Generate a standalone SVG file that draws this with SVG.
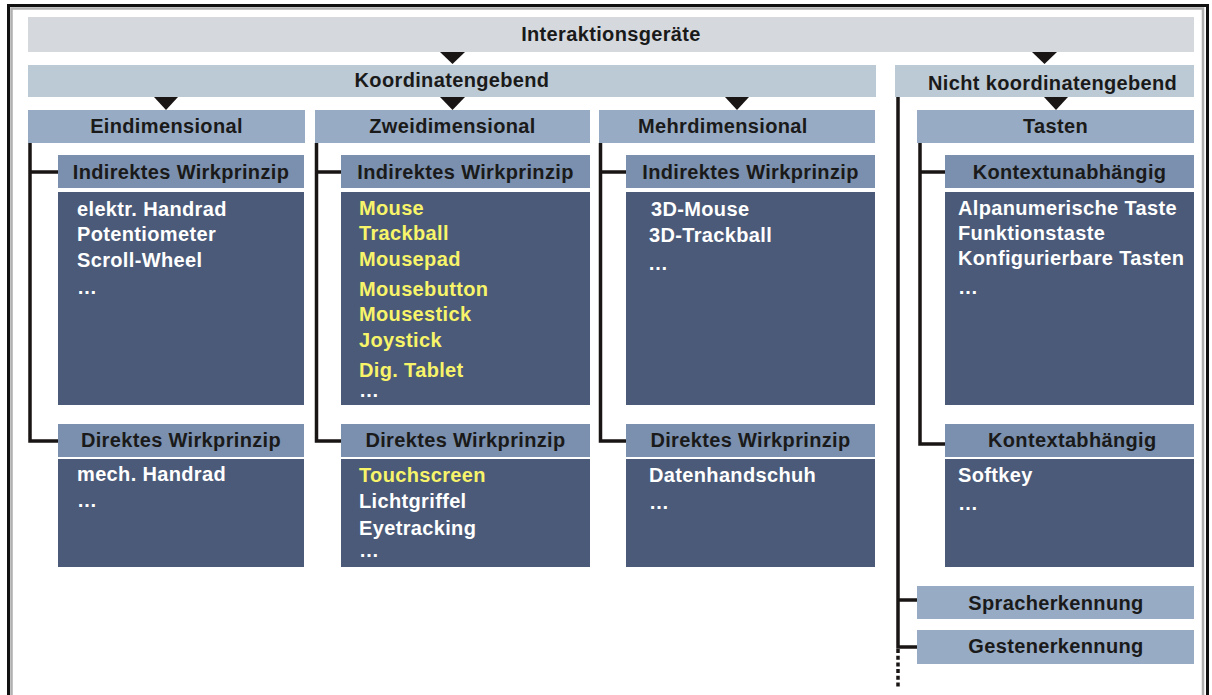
<svg xmlns="http://www.w3.org/2000/svg" width="1212" height="695" viewBox="0 0 1212 695">
<style>
text{font-family:"Liberation Sans",Arial,sans-serif;font-weight:bold;font-size:20px;letter-spacing:0.35px}
.t{fill:#1a1a1a}
.c{text-anchor:middle}
.w{fill:#ffffff}
.y{fill:#f8f46a}
.b0{fill:#d5d9de}
.b1{fill:#bccad5}
.b2{fill:#98abc4}
.b3{fill:#7a90ae}
.b4{fill:#4a5a78}
.ln{stroke:#1a1515;stroke-width:3.5;fill:none}
.tri{fill:#1a1515}
</style>
<rect x="0" y="0" width="1212" height="695" fill="#ffffff"/>
<g id="frame">
<path d="M8.5,695 V5.5 H1207.5 V695" fill="none" stroke="#111111" stroke-width="3"/>
<path d="M11.5,695 V8.5 H1203 V695" fill="none" stroke="#b0b0b0" stroke-width="2.5"/>
</g>
<g id="connectors">
<polygon class="tri" points="440,52 465,52 452.5,64"/>
<polygon class="tri" points="1032,52 1057,52 1044.5,64"/>
<polygon class="tri" points="154,97 178,97 166,110"/>
<polygon class="tri" points="440,97 465,97 452.5,110"/>
<polygon class="tri" points="725,97 749,97 737,110"/>
<polygon class="tri" points="1044,97 1068,97 1056,110"/>
<path class="ln" d="M30,143 V441 H58 M30,172 H58"/>
<path class="ln" d="M316.5,143 V441 H341 M316.5,172 H341"/>
<path class="ln" d="M600.5,143 V441 H626 M600.5,172 H626"/>
<path class="ln" d="M920,143 V444 H945 M920,172 H945"/>
<path class="ln" d="M898,97 V647 H917 M898,600 H917"/>
<path d="M898,649 V687" stroke="#1a1515" stroke-width="3.5" stroke-dasharray="4,2.7" fill="none"/>
</g>
<g id="n-interaktionsgeraete">
<rect class="b0" x="28" y="17" width="1166" height="35"/>
<text class="t c" x="611" y="41">Interaktionsgeräte</text>
</g>
<g id="n-koordinatengebend">
<rect class="b1" x="28" y="65" width="848" height="32"/>
<text class="t c" x="452" y="87">Koordinatengebend</text>
</g>
<g id="n-nicht-koordinatengebend">
<rect class="b1" x="895" y="65" width="299" height="32"/>
<text class="t" x="928" y="90">Nicht koordinatengebend</text>
</g>
<g id="n-eindimensional">
<rect class="b2" x="28" y="110" width="277" height="33"/>
<text class="t c" x="166.5" y="133">Eindimensional</text>
</g>
<g id="n-zweidimensional">
<rect class="b2" x="315" y="110" width="275" height="33"/>
<text class="t c" x="452.5" y="133">Zweidimensional</text>
</g>
<g id="n-mehrdimensional">
<rect class="b2" x="599" y="110" width="276" height="33"/>
<text class="t" x="638" y="133">Mehrdimensional</text>
</g>
<g id="n-tasten">
<rect class="b2" x="917" y="110" width="277" height="33"/>
<text class="t c" x="1055.5" y="133">Tasten</text>
</g>
<g id="n-ein-indirekt">
<rect class="b3" x="58" y="155" width="246" height="33"/>
<text class="t c" x="181" y="179">Indirektes Wirkprinzip</text>
<rect class="b4" x="58" y="192" width="246" height="213"/>
<text class="w" x="77" y="216">elektr. Handrad</text>
<text class="w" x="77" y="241">Potentiometer</text>
<text class="w" x="77" y="267">Scroll-Wheel</text>
<text class="w" x="77" y="294">…</text>
</g>
<g id="n-ein-direkt">
<rect class="b3" x="58" y="424" width="246" height="33"/>
<text class="t c" x="181" y="447">Direktes Wirkprinzip</text>
<rect class="b4" x="58" y="459" width="246" height="108"/>
<text class="w" x="77" y="481">mech. Handrad</text>
<text class="w" x="77" y="507">…</text>
</g>
<g id="n-zwei-indirekt">
<rect class="b3" x="341" y="155" width="249" height="33"/>
<text class="t c" x="465.5" y="179">Indirektes Wirkprinzip</text>
<rect class="b4" x="341" y="192" width="249" height="213"/>
<text class="y" x="359" y="215">Mouse</text>
<text class="y" x="359" y="240">Trackball</text>
<text class="y" x="359" y="266">Mousepad</text>
<text class="y" x="359" y="296">Mousebutton</text>
<text class="y" x="359" y="321">Mousestick</text>
<text class="y" x="359" y="347">Joystick</text>
<text class="y" x="359" y="377">Dig. Tablet</text>
<text class="w" x="359" y="397">…</text>
</g>
<g id="n-zwei-direkt">
<rect class="b3" x="341" y="424" width="249" height="33"/>
<text class="t c" x="465.5" y="447">Direktes Wirkprinzip</text>
<rect class="b4" x="341" y="459" width="249" height="108"/>
<text class="y" x="359" y="482">Touchscreen</text>
<text class="w" x="359" y="508">Lichtgriffel</text>
<text class="w" x="359" y="535">Eyetracking</text>
<text class="w" x="359" y="557">…</text>
</g>
<g id="n-mehr-indirekt">
<rect class="b3" x="626" y="155" width="249" height="33"/>
<text class="t c" x="750.5" y="179">Indirektes Wirkprinzip</text>
<rect class="b4" x="626" y="192" width="249" height="213"/>
<text class="w" x="651" y="216">3D-Mouse</text>
<text class="w" x="649" y="242">3D-Trackball</text>
<text class="w" x="648" y="270">…</text>
</g>
<g id="n-mehr-direkt">
<rect class="b3" x="626" y="424" width="249" height="33"/>
<text class="t c" x="750.5" y="447">Direktes Wirkprinzip</text>
<rect class="b4" x="626" y="459" width="249" height="108"/>
<text class="w" x="649" y="482">Datenhandschuh</text>
<text class="w" x="649" y="509">…</text>
</g>
<g id="n-kontextunabhaengig">
<rect class="b3" x="945" y="155" width="249" height="33"/>
<text class="t c" x="1069.5" y="179">Kontextunabhängig</text>
<rect class="b4" x="945" y="192" width="249" height="213"/>
<text class="w" x="958" y="215">Alpanumerische Taste</text>
<text class="w" x="958" y="240">Funktionstaste</text>
<text class="w" x="958" y="265">Konfigurierbare Tasten</text>
<text class="w" x="958" y="294">…</text>
</g>
<g id="n-kontextabhaengig">
<rect class="b3" x="945" y="424" width="249" height="33"/>
<text class="t" x="988" y="447">Kontextabhängig</text>
<rect class="b4" x="945" y="459" width="249" height="108"/>
<text class="w" x="958" y="482">Softkey</text>
<text class="w" x="958" y="510">…</text>
</g>
<g id="n-spracherkennung">
<rect class="b2" x="917" y="586" width="277" height="33"/>
<text class="t c" x="1056" y="610">Spracherkennung</text>
</g>
<g id="n-gestenerkennung">
<rect class="b2" x="917" y="630" width="277" height="34"/>
<text class="t c" x="1056" y="653">Gestenerkennung</text>
</g>
</svg>
